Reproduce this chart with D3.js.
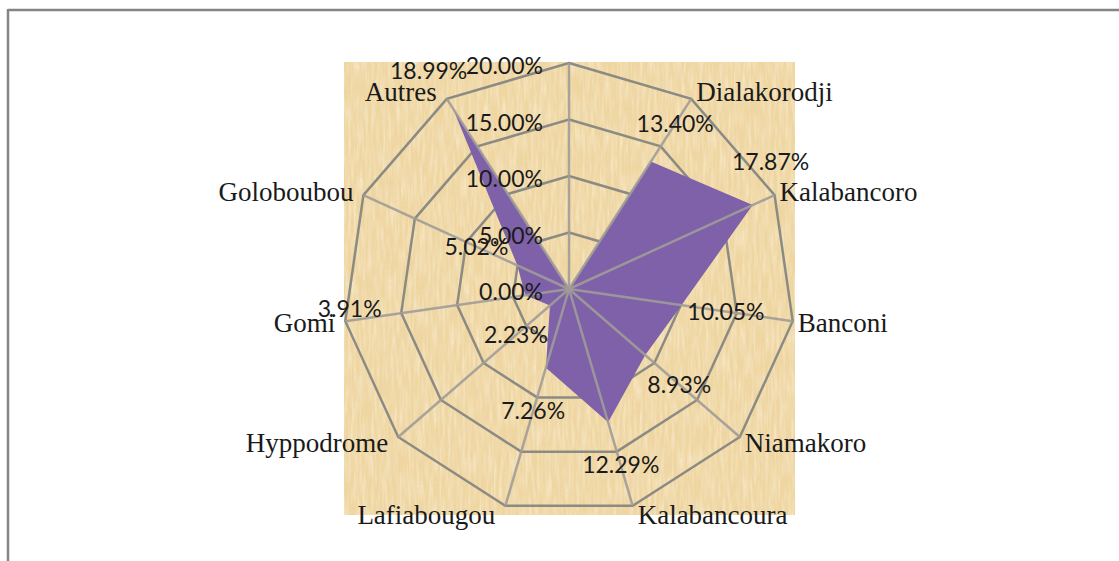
<!DOCTYPE html>
<html>
<head>
<meta charset="utf-8">
<script src="https://cdn.jsdelivr.net/npm/d3@7"></script>
<style>
  html, body { margin: 0; padding: 0; background: #fff; }
  svg { display: block; }
  .tick-label, .value-label { font-family: Lato, "Open Sans", sans-serif; font-size: 23px; fill: #1a1a1a; }
  .cat-label { font-family: "Liberation Serif", "DejaVu Serif", serif; font-size: 27px; fill: #1a1a1a; }
</style>
</head>
<body>
<div id="chart"></div>
<script>
const categories = ["", "Dialakorodji", "Kalabancoro", "Banconi", "Niamakoro", "Kalabancoura",
    "Lafiabougou", "Hyppodrome", "Gomi", "Goloboubou", "Autres"];
const values = [0, 13.40, 17.87, 10.05, 8.93, 12.29, 7.26, 2.23, 3.91, 5.02, 18.99];
const ticks = [0, 5, 10, 15, 20];

// labels that were dragged by hand in the original
const labelNudge = { "Gomi": [-131, 7], "Kalabancoro": [-23, -24] };

const W = 1119, H = 561;
const cx = 569, cy = 289, R = 226;

const svg = d3.select("#chart").append("svg")
    .attr("width", W)
    .attr("height", H);

// frame (only top and left edges are visible)
svg.append("line").attr("x1", 8).attr("y1", 10).attr("x2", W).attr("y2", 10)
    .attr("stroke", "#858585").attr("stroke-width", 2.5);
svg.append("line").attr("x1", 8).attr("y1", 9).attr("x2", 8).attr("y2", H)
    .attr("stroke", "#858585").attr("stroke-width", 2.5);

// papyrus like background
const defs = svg.append("defs");
const f = defs.append("filter").attr("id", "paper")
    .attr("x", 0).attr("y", 0).attr("width", 1).attr("height", 1);
f.append("feTurbulence").attr("type", "fractalNoise")
    .attr("baseFrequency", "0.35 0.04").attr("numOctaves", 2).attr("seed", 3).attr("result", "n1");
f.append("feColorMatrix").attr("in", "n1").attr("type", "matrix")
    .attr("values", "0 0 0 0 0.98  0 0 0 0 0.92  0 0 0 0 0.78  1.6 0 0 0 -0.6")
    .attr("result", "c1");
f.append("feTurbulence").attr("type", "fractalNoise")
    .attr("baseFrequency", "0.04 0.35").attr("numOctaves", 2).attr("seed", 8).attr("result", "n2");
f.append("feColorMatrix").attr("in", "n2").attr("type", "matrix")
    .attr("values", "0 0 0 0 0.85  0 0 0 0 0.72  0 0 0 0 0.48  1.5 0 0 0 -0.62")
    .attr("result", "c2");
f.append("feMerge").call(m => {
    m.append("feMergeNode").attr("in", "c1");
    m.append("feMergeNode").attr("in", "c2");
});

svg.append("rect").attr("x", 344).attr("y", 62).attr("width", 451).attr("height", 453)
    .attr("fill", "#efd59f");
svg.append("rect").attr("x", 344).attr("y", 62).attr("width", 451).attr("height", 453)
    .attr("fill", "#fff").attr("filter", "url(#paper)").attr("opacity", 0.7);

const r = d3.scaleLinear().domain([0, 20]).range([0, R]);
const angle = d3.scaleLinear().domain([0, categories.length]).range([0, 2 * Math.PI]);

const pt = (i, v) => [cx + r(v) * Math.sin(angle(i)), cy - r(v) * Math.cos(angle(i))];

const g = svg.append("g");
const gridColor = "#8b8b84";

// rings
const ringLine = d3.line().curve(d3.curveLinearClosed);
g.selectAll(".ring").data(ticks.filter(t => t > 0)).join("path")
    .attr("class", "ring")
    .attr("d", t => ringLine(categories.map((c, i) => pt(i, t))))
    .attr("fill", "none")
    .attr("stroke", gridColor)
    .attr("stroke-width", 2.5);

// series
g.append("path")
    .attr("d", ringLine(values.map((v, i) => pt(i, v))))
    .attr("fill", "#7e61a8");

// spokes
g.selectAll(".spoke").data(categories).join("line")
    .attr("class", "spoke")
    .attr("x1", cx).attr("y1", cy)
    .attr("x2", (c, i) => pt(i, 20)[0])
    .attr("y2", (c, i) => pt(i, 20)[1])
    .attr("stroke", "#a09c98")
    .attr("stroke-opacity", 0.9)
    .attr("stroke-width", 2.5);

// axis tick labels
g.selectAll(".tick-label").data(ticks).join("text")
    .attr("class", "tick-label")
    .attr("x", cx - 26)
    .attr("y", t => cy - r(t) + 3)
    .attr("dy", "0.35em")
    .attr("text-anchor", "end")
    .text(t => t.toFixed(2) + "%");

// category labels
g.selectAll(".cat-label").data(categories).join("text")
    .attr("class", "cat-label")
    .each(function (c, i) {
        const a = angle(i);
        const [x, y] = pt(i, 20);
        const s = Math.sin(a);
        d3.select(this)
            .attr("x", s > 0 ? x + 5 : x - 10)
            .attr("y", y - Math.cos(a) * 9)
            .attr("dy", "0.35em")
            .attr("text-anchor", s > 0 ? "start" : "end");
    })
    .text(c => c);

// value labels
g.selectAll(".value-label").data(values).join("text")
    .attr("class", "value-label")
    .each(function (v, i) {
        const a = angle(i);
        const [x, y] = pt(i, v);
        const nudge = labelNudge[categories[i]] || [0, 0];
        d3.select(this)
            .attr("x", x + 45 * Math.sin(a) + nudge[0])
            .attr("y", y - 45 * Math.cos(a) + nudge[1])
            .attr("dy", "0.35em")
            .attr("text-anchor", "middle");
    })
    .text((v, i) => categories[i] === "" ? "" : v.toFixed(2) + "%");
</script>
</body>
</html>
